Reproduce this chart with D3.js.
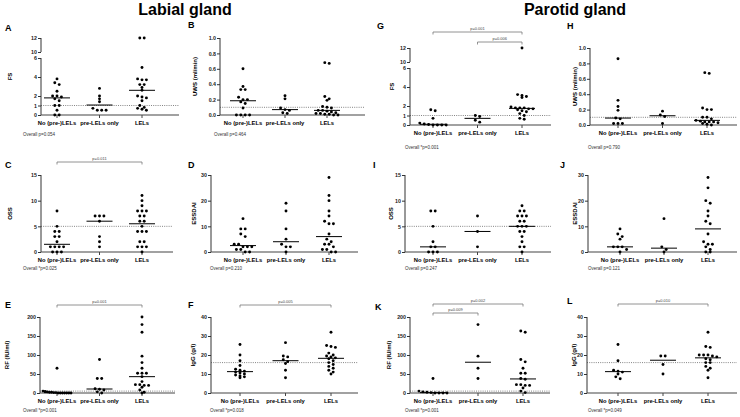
<!DOCTYPE html>
<html>
<head>
<meta charset="utf-8">
<script src="https://cdn.jsdelivr.net/npm/d3@7"></script>
<style>
body { margin: 0; background: #fff; }
text { font-family: "Liberation Sans", Arial, sans-serif; }
</style>
</head>
<body>
<script>
const cats = ["No (pre-)LELs", "pre-LELs only", "LELs"]

// tick labels
const fsTicks = [0, 1, 2, 4, 6, 10, 12]
const uwsTicks = [0, 0.2, 0.4, 0.6, 0.8, 1.0]
const ossTicks = [0, 5, 10, 15]
const essdaiTicks = [0, 10, 20, 30]
const rfTicks = [0, 50, 100, 150, 200]
const iggTicks = [0, 10, 20, 30, 40]

// reference (cut-off) lines
const fsRef = 1, uwsRef = 0.1, ossRef = 5, rfRef = 5, iggRef = 16

// Labial gland - one array per group
const labialFS = [
  [3.8, 3.4, 3.2, 2.5, 2.0, 2.0, 1.9, 1.7, 1.5, 1.0, 1.0, 0.5, 0, 0],
  [2.8, 2.0, 1.7, 1.4, 0.7, 0.5, 0.5, 0.5],
  [12, 12, 5.0, 3.8, 3.7, 3.7, 3.2, 3.2, 2.9, 2.6, 2.0, 1.9, 1.8, 1.5, 1.0, 0.8, 0.7, 0.6, 0.5]
]
const labialUWS = [
  [0.60, 0.37, 0.33, 0.33, 0.23, 0.20, 0.20, 0.17, 0.15, 0.09, 0, 0, 0, 0],
  [0.25, 0.21, 0.09, 0.07, 0.06, 0.03, 0.02],
  [0.68, 0.67, 0.24, 0.21, 0.19, 0.11, 0.10, 0.09, 0.06, 0.06, 0.05, 0.04, 0.03, 0.02, 0.02, 0.01, 0.01, 0, 0]
]
const labialOSS = [
  [8, 5, 4, 4, 3, 3, 2, 1, 1, 1, 1, 0, 0, 0],
  [7, 7, 7, 6, 3, 2, 1],
  [11, 10, 9, 8, 8, 8, 7, 7, 6, 6, 5, 4, 4, 4, 2, 2, 1, 1, 1, 0]
]
const labialESSDAI = [
  [13, 9, 9, 7, 6, 3, 3, 2, 2, 2, 1, 1, 0, 0],
  [19, 16, 9, 5, 3, 2, 2, 0],
  [29, 22, 20, 16, 14, 12, 11, 11, 7, 5, 4, 3, 3, 2, 1, 1, 0, 0]
]
const labialRF = [
  [65, 5, 4, 3, 2, 2, 1, 1, 0, 0, 0, 0, 0, 0, 0],
  [88, 38, 38, 11, 10, 8, 3, 0],
  [200, 180, 160, 97, 80, 65, 52, 52, 52, 43, 30, 22, 22, 20, 20, 15, 8, 2, 0]
]
const labialIgG = [
  [25.5, 20, 17, 14.5, 12.5, 12, 11.5, 11, 10.5, 10, 9.5, 9, 8.5, 8],
  [26.5, 19.5, 19, 17.5, 16.5, 15.5, 12, 8],
  [32, 25, 24.5, 24, 21, 20, 19.5, 19, 18.5, 18, 17, 16, 15, 14, 13, 12, 11, 10]
]

// Parotid gland
const parotidFS = [
  [1.6, 1.5, 0.7, 0.2, 0.1, 0.05, 0, 0, 0, 0],
  [1.0, 0.9, 0.5, 0.3],
  [12, 3.2, 3.1, 3.0, 2.9, 1.9, 1.8, 1.8, 1.8, 1.7, 1.7, 1.6, 1.5, 1.4, 1.2, 1.0, 0.7, 0.6]
]
const parotidUWS = [
  [0.86, 0.32, 0.24, 0.19, 0.09, 0.08, 0.02, 0.02, 0.02],
  [0.18, 0.13, 0.11, 0.02],
  [0.68, 0.67, 0.22, 0.20, 0.20, 0.10, 0.10, 0.08, 0.06, 0.05, 0.04, 0.04, 0.04, 0.03, 0.02, 0.01, 0]
]
const parotidOSS = [
  [8, 8, 5, 2, 1, 1, 0, 0, 0],
  [7, 4, 1],
  [9, 8, 8, 7, 7, 7, 6, 6, 5, 5, 5, 4, 4, 3, 2, 1, 1, 0]
]
const parotidESSDAI = [
  [9, 7, 6, 5, 2, 2, 2, 1, 0],
  [13, 2, 1, 0],
  [29, 25, 20, 19, 16, 14, 12, 11, 7, 4, 3, 3, 2, 1, 0, 0]
]
const parotidRF = [
  [38, 5, 3, 2, 1, 0, 0, 0, 0],
  [180, 97, 65, 38],
  [163, 160, 88, 82, 65, 52, 52, 38, 36, 22, 22, 20, 20, 13, 5, 1]
]
const parotidIgG = [
  [25.5, 17, 12, 11.5, 11, 10, 8.5, 7.5],
  [19.5, 19.5, 15, 10],
  [32, 24.5, 24, 20, 20, 20, 19.5, 19, 18, 17.5, 16, 16, 14, 13, 12, 8]
]

let width = 740
let height = 417

let svg = d3.select("body")
    .append("svg")
    .attr("width", width)
    .attr("height", height)

svg.append("rect").attr("width", width).attr("height", height).attr("fill", "#fff")

svg.append("text").attr("x", 185).attr("y", 15).attr("text-anchor", "middle")
    .attr("font-size", 16).attr("font-weight", "bold").text("Labial gland")
svg.append("text").attr("x", 575).attr("y", 15).attr("text-anchor", "middle")
    .attr("font-size", 16).attr("font-weight", "bold").text("Parotid gland")

// lay dots of one group out side by side when they share a height
function spread(vals, y, cx) {
    let s = vals.slice().sort((a, b) => b - a)
    let out = []
    let i = 0
    while (i < s.length) {
        let j = i
        while (j + 1 < s.length && y(s[j + 1]) - y(s[i]) < 2.6) j++
        let n = j - i + 1
        let gap = n > 1 ? Math.min(4.4, 28 / (n - 1)) : 0
        for (let k = 0; k < n; k++) {
            out.push({ x: cx + (k - (n - 1) / 2) * gap, y: y(s[i + k]) })
        }
        i = j + 1
    }
    return out
}

function panel(p) {
    let g = svg.append("g")
    let x = d3.scalePoint().domain(cats).range([p.c0, p.c2])
    let top = d3.max(p.ticks)
    let y
    if (p.brk) {
        let h = p.y0 - p.yTop
        y = d3.scaleLinear().domain([0, 6, 10, 12])
            .range([p.y0, p.y0 - h * 0.74, p.y0 - h * 0.818, p.yTop])
    } else {
        y = d3.scaleLinear().domain([0, top]).range([p.y0, p.yTop])
    }

    // letter
    g.append("text").attr("x", p.lx).attr("y", p.ly)
        .attr("font-size", 9).attr("font-weight", "bold").text(p.letter)

    // reference line
    if (p.ref != null) {
        g.append("line")
            .attr("x1", p.ax).attr("x2", p.x1)
            .attr("y1", y(p.ref)).attr("y2", y(p.ref))
            .attr("stroke", "#666").attr("stroke-width", 0.8)
            .attr("stroke-dasharray", "1,1.2")
    }

    // y axis
    let yAxis = d3.axisLeft(y).tickValues(p.ticks).tickSize(3).tickPadding(1)
    if (p.fmt) yAxis.tickFormat(d3.format(p.fmt))
    let ya = g.append("g").attr("transform", "translate(" + p.ax + ",0)").call(yAxis)
    ya.select(".domain").remove()
    ya.selectAll("line").attr("stroke", "#333")
    ya.selectAll("text").attr("font-size", 5.3).attr("font-weight", "bold")
        .attr("fill", "#222").attr("font-family", "Liberation Sans, Arial, sans-serif")
    if (p.brk) {
        g.append("line").attr("x1", p.ax).attr("x2", p.ax)
            .attr("y1", y(0)).attr("y2", y(6)).attr("stroke", "#333")
        g.append("line").attr("x1", p.ax).attr("x2", p.ax)
            .attr("y1", y(10)).attr("y2", y(12)).attr("stroke", "#333")
    } else {
        g.append("line").attr("x1", p.ax).attr("x2", p.ax)
            .attr("y1", y(0)).attr("y2", y(top)).attr("stroke", "#333")
    }

    // x axis
    g.append("line").attr("x1", p.ax).attr("x2", p.x1)
        .attr("y1", p.y0).attr("y2", p.y0).attr("stroke", "#444").attr("stroke-width", 1.2)
    g.selectAll(".xt").data(cats).enter().append("line")
        .attr("x1", d => x(d)).attr("x2", d => x(d))
        .attr("y1", p.y0).attr("y2", p.y0 + 3).attr("stroke", "#444")
    g.selectAll(".xl").data(cats).enter().append("text")
        .attr("x", d => x(d)).attr("y", p.y0 + 10)
        .attr("text-anchor", "middle").attr("font-size", 5.8).attr("font-weight", "bold")
        .text(d => d)

    // y label
    g.append("text")
        .attr("transform", "translate(" + p.labX + "," + ((y(0) + p.yTop) / 2) + ") rotate(-90)")
        .attr("text-anchor", "middle").attr("font-size", 6).attr("font-weight", "bold")
        .text(p.label)

    // dots
    p.data.forEach(function(vals, i) {
        let pts = spread(vals, y, x(cats[i]))
        g.selectAll(".d" + i).data(pts).enter().append("circle")
            .attr("cx", d => d.x).attr("cy", d => d.y).attr("r", 1.45)
            .attr("fill", "#000")
        let m = d3.median(vals)
        g.append("line")
            .attr("x1", x(cats[i]) - 13).attr("x2", x(cats[i]) + 13)
            .attr("y1", y(m)).attr("y2", y(m))
            .attr("stroke", "#000").attr("stroke-width", 1)
    })

    // significance bars
    ;(p.sig || []).forEach(function(s) {
        let xa = x(cats[s.a]), xb = x(cats[s.b])
        g.append("path")
            .attr("d", "M" + xa + "," + (s.y + 2.5) + "V" + s.y + "H" + xb + "V" + (s.y + 2.5))
            .attr("fill", "none").attr("stroke", "#777").attr("stroke-width", 0.8)
        g.append("text").attr("x", (xa + xb) / 2).attr("y", s.y - 2.5)
            .attr("text-anchor", "middle").attr("font-size", 4).attr("fill", "#444")
            .text(s.t)
    })

    // overall p
    g.append("text").attr("x", p.ox).attr("y", p.oy)
        .attr("font-size", 4.5).attr("fill", "#333").text(p.overall)
}

panel({ letter: "A", lx: 5, ly: 31, ax: 41, x1: 179, c0: 57, c2: 142, y0: 115, yTop: 38, brk: true,
    ticks: fsTicks, ref: fsRef, label: "FS", labX: 12, data: labialFS,
    overall: "Overall p=0.054", ox: 23, oy: 136 })
panel({ letter: "B", lx: 188, ly: 28, ax: 220, x1: 365, c0: 243, c2: 327, y0: 115, yTop: 38,
    ticks: uwsTicks, fmt: ".1f", ref: uwsRef, label: "UWS (ml/min)", labX: 197, data: labialUWS,
    overall: "Overall p=0.464", ox: 214, oy: 136 })
panel({ letter: "C", lx: 5, ly: 168, ax: 41, x1: 173, c0: 57, c2: 142, y0: 252, yTop: 175,
    ticks: ossTicks, ref: ossRef, label: "OSS", labX: 12, data: labialOSS,
    sig: [{ a: 0, b: 2, y: 162, t: "p=0.011" }],
    overall: "Overall *p=0.025", ox: 23, oy: 270 })
panel({ letter: "D", lx: 188, ly: 168, ax: 211, x1: 358, c0: 243, c2: 329, y0: 252, yTop: 175,
    ticks: essdaiTicks, label: "ESSDAI", labX: 196, data: labialESSDAI,
    overall: "Overall p=0.210", ox: 210, oy: 270 })
panel({ letter: "E", lx: 5, ly: 308, ax: 40, x1: 175, c0: 57, c2: 142, y0: 393, yTop: 317,
    ticks: rfTicks, ref: rfRef, label: "RF (IU/ml)", labX: 9, data: labialRF,
    sig: [{ a: 0, b: 2, y: 305, t: "p=0.001" }],
    overall: "Overall *p=0.001", ox: 23, oy: 412 })
panel({ letter: "F", lx: 188, ly: 308, ax: 211, x1: 358, c0: 240, c2: 331, y0: 393, yTop: 317,
    ticks: iggTicks, ref: iggRef, label: "IgG (g/l)", labX: 195, data: labialIgG,
    sig: [{ a: 0, b: 2, y: 305, t: "p=0.005" }],
    overall: "Overall *p=0.018", ox: 210, oy: 412 })

panel({ letter: "G", lx: 377, ly: 29, ax: 410, x1: 551, c0: 433, c2: 522, y0: 125, yTop: 48, brk: true,
    ticks: fsTicks, ref: fsRef, label: "FS", labX: 394, data: parotidFS,
    sig: [{ a: 0, b: 2, y: 32, t: "p=0.001" }, { a: 1, b: 2, y: 42, t: "p=0.006" }],
    overall: "Overall *p=0.001", ox: 405, oy: 149 })
panel({ letter: "H", lx: 567, ly: 29, ax: 590, x1: 737, c0: 618, c2: 707, y0: 125, yTop: 48,
    ticks: uwsTicks, fmt: ".1f", ref: uwsRef, label: "UWS (ml/min)", labX: 577, data: parotidUWS,
    overall: "Overall p=0.790", ox: 588, oy: 149 })
panel({ letter: "I", lx: 373, ly: 168, ax: 405, x1: 551, c0: 433, c2: 522, y0: 252, yTop: 175,
    ticks: ossTicks, ref: ossRef, label: "OSS", labX: 393, data: parotidOSS,
    overall: "Overall p=0.247", ox: 405, oy: 270 })
panel({ letter: "J", lx: 560, ly: 168, ax: 588, x1: 737, c0: 620, c2: 708, y0: 252, yTop: 175,
    ticks: essdaiTicks, label: "ESSDAI", labX: 577, data: parotidESSDAI,
    overall: "Overall p=0.121", ox: 588, oy: 270 })
panel({ letter: "K", lx: 375, ly: 310, ax: 410, x1: 550, c0: 433, c2: 523, y0: 393, yTop: 317,
    ticks: rfTicks, ref: rfRef, label: "RF (IU/ml)", labX: 391, data: parotidRF,
    sig: [{ a: 0, b: 2, y: 304, t: "p=0.002" }, { a: 0, b: 1, y: 313, t: "p=0.009" }],
    overall: "Overall *p=0.001", ox: 405, oy: 412 })
panel({ letter: "L", lx: 567, ly: 304, ax: 587, x1: 737, c0: 618, c2: 708, y0: 393, yTop: 317,
    ticks: iggTicks, ref: iggRef, label: "IgG (g/l)", labX: 576, data: parotidIgG,
    sig: [{ a: 0, b: 2, y: 304, t: "p=0.010" }],
    overall: "Overall *p=0.049", ox: 588, oy: 412 })
</script>
</body>
</html>
